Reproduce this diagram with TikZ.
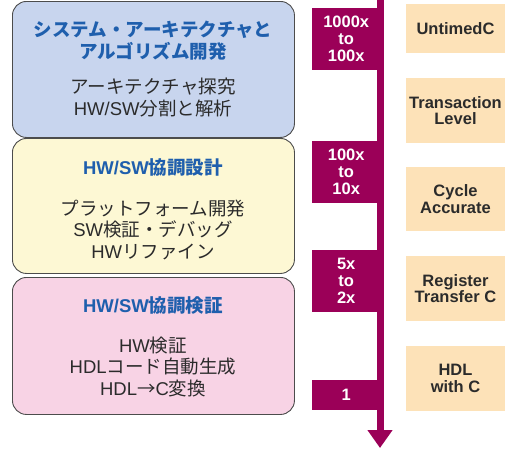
\documentclass[tikz,border=0pt]{standalone}
\usepackage{fontspec}
\setmainfont{Liberation Sans}
\newfontfamily\jpfont{Noto Sans CJK JP}
\newfontfamily\latfont{Liberation Sans}
\usetikzlibrary{arrows.meta,positioning}
\definecolor{archblue}{HTML}{C8D5EE}
\definecolor{designyellow}{HTML}{FDF8D4}
\definecolor{verifpink}{HTML}{F8D3E5}
\definecolor{titleblue}{HTML}{1F5FAD}
\definecolor{speedred}{HTML}{9B0058}
\definecolor{levelpeach}{HTML}{FDE2B8}
\definecolor{ink}{HTML}{2B2B2B}
\newcommand{\lat}[1]{{\latfont #1}}

\begin{document}
\begin{tikzpicture}[x=1pt,y=-1pt]
	\tikzset{phase/.style={draw=black!70,line width=0.9pt,rounded corners=14pt,
			minimum width=282pt,anchor=north west,inner sep=0pt},
		phasetitle/.style={text=titleblue,align=center,
			font=\jpfont\bfseries\fontsize{18.5}{22}\selectfont},
		phasebody/.style={text=ink,align=center,
			font=\jpfont\fontsize{18.5}{21.5}\selectfont},
		speedbox/.style={fill=speedred,text=white,align=center,anchor=north west,
			minimum width=68pt,inner sep=0pt,
			font=\bfseries\fontsize{16.5}{17}\selectfont},
		levelbox/.style={fill=levelpeach,text=ink,align=center,
			minimum width=99pt,inner sep=0pt,
			font=\bfseries\fontsize{16.5}{16.5}\selectfont}}
	\useasboundingbox (0,0) rectangle (508,448);
	% design phases (left)
	\node[phase,fill=archblue,minimum height=136pt] (arch) at (12,1) {};
	\node[phase,fill=designyellow,minimum height=135pt] (codesign) at (12,138) {};
	\node[phase,fill=verifpink,minimum height=137pt] (coverif) at (12,277) {};
	\node[phasetitle] (archT) at (153,41) {システム・アーキテクチャと\\アルゴリズム開発};
	\node[phasebody] (archB) at (153,97.5) {アーキテクチャ探究\\\lat{HW/SW}分割と解析};
	\node[phasetitle] (codesignT) at (153,168) {\lat{HW/SW}協調設計};
	\node[phasebody] (codesignB) at (153,229.5) {プラットフォーム開発\\\lat{SW}検証・デバッグ\\\lat{HW}リファイン};
	\node[phasetitle] (coverifT) at (153,306) {\lat{HW/SW}協調検証};
	\node[phasebody] (coverifB) at (153,366.5) {\lat{HW}検証\\\lat{HDL}コード自動生成\\\lat{HDL}→\lat{C}変換};
	% speed-up labels
	\node[speedbox,minimum height=62pt] (sp1) at (312,8) {1000x\\to\\100x};
	\node[speedbox,minimum height=62pt] (sp2) at (312,141) {100x\\to\\10x};
	\node[speedbox,minimum height=62pt] (sp3) at (312,250) {5x\\to\\2x};
	\node[speedbox,minimum height=30pt] (sp4) at (312,380) {1};
	% time axis
	\coordinate (axistop) at (380,0);
	\coordinate (axistip) at (380,448);
	\draw[speedred,line width=7pt,-{Triangle[width=24pt,length=18pt]}] (axistop) -- (axistip);
	% abstraction levels (right)
	\node[levelbox,minimum height=49pt] (untimed) at (455.5,28.5) {UntimedC};
	\node[levelbox,minimum height=65pt] (tlm) at (455.5,110.5) {Transaction\\Level};
	\node[levelbox,minimum height=64pt] (cycle) at (455.5,199) {Cycle\\Accurate};
	\node[levelbox,minimum height=65pt] (rtc) at (455.5,288.5) {Register\\Transfer C};
	\node[levelbox,minimum height=65pt] (hdlc) at (455.5,378.5) {HDL\\with C};
\end{tikzpicture}
\end{document}
